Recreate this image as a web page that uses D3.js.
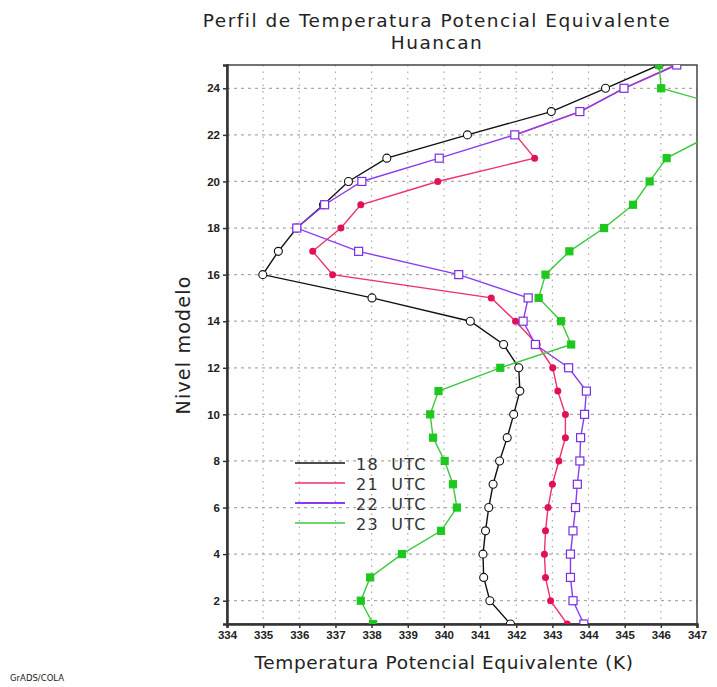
<!DOCTYPE html>
<html>
<head>
<meta charset="utf-8">
<script src="https://cdn.jsdelivr.net/npm/d3@7"></script>
<style>
  body { margin: 0; background: #fff; }
  svg text { font-family: "DejaVu Sans", sans-serif; fill: #222; }
</style>
</head>
<body>
<div id="chart"></div>
<script>
(function() {
"use strict"

// model levels and theta-e profiles (K)
var levels = d3.range(1, 26);
var t18 = [341.84, 341.27, 341.10, 341.08, 341.15, 341.24, 341.36, 341.54, 341.75, 341.93,
           342.10, 342.07, 341.65, 340.73, 338.01, 334.99, 335.42, 335.93, 336.67, 337.36,
           338.42, 340.65, 342.97, 344.47, 345.95];
var t21 = [343.41, 342.95, 342.81, 342.78, 342.81, 342.88, 343.00, 343.18, 343.36, 343.36,
           343.15, 343.01, 342.58, 341.98, 341.31, 336.92, 336.37, 337.15, 337.70, 339.83,
           342.51, 341.98, 343.78, 344.98, 346.40];
var t22 = [343.87, 343.57, 343.50, 343.50, 343.57, 343.64, 343.69, 343.76, 343.78, 343.89,
           343.94, 343.45, 342.53, 342.19, 342.33, 340.41, 337.64, 335.93, 336.70, 337.73,
           339.87, 341.96, 343.76, 344.98, 346.44];
var t23 = [338.04, 337.70, 337.96, 338.84, 339.92, 340.36, 340.25, 340.02, 339.70, 339.62,
           339.85, 341.56, 343.52, 343.24, 342.62, 342.81, 343.47, 344.43, 345.23, 345.69,
           346.16, 347.40, 348.30, 346.01, 345.95];
var xTicks = d3.range(334, 348);
var yTicks = d3.range(2, 25, 2);
var seriesNames = ["18 UTC", "21 UTC", "22 UTC", "23 UTC"];

var series = [
    {name: seriesNames[0], vals: t18, line: "#111", mark: "circle", fill: "#fff", stroke: "#111"},
    {name: seriesNames[1], vals: t21, line: "#f0306a", mark: "dot", fill: "#e0105c", stroke: "#e0105c"},
    {name: seriesNames[2], vals: t22, line: "#8a3cf0", mark: "square", fill: "#fff", stroke: "#7a2ee0"},
    {name: seriesNames[3], vals: t23, line: "#3cc83c", mark: "fsquare", fill: "#1ec81e", stroke: "#1ec81e"}
];

var W = 717, H = 687;
var margin = {top: 65, right: 20, bottom: 63, left: 227};
var width = W - margin.left - margin.right,
    height = H - margin.top - margin.bottom;

var svg = d3.select("#chart").append("svg")
    .attr("width", W)
    .attr("height", H);

var g = svg.append("g")
    .attr("transform", "translate(" + margin.left + "," + margin.top + ")");

var x = d3.scaleLinear().domain([334, 347]).range([0, width]);
var y = d3.scaleLinear().domain([1, 25]).range([height, 0]);

g.append("clipPath").attr("id", "clip")
  .append("rect").attr("width", width).attr("height", height);

// grid
g.append("g").selectAll("line").data(xTicks.slice(1, -1)).enter().append("line")
    .attr("x1", d => x(d)).attr("x2", d => x(d))
    .attr("y1", 0).attr("y2", height)
    .style("stroke", "#aaa").style("stroke-width", 1.2).style("stroke-dasharray", "1.5,5");
g.append("g").selectAll("line").data(yTicks).enter().append("line")
    .attr("x1", 0).attr("x2", width)
    .attr("y1", d => y(d)).attr("y2", d => y(d))
    .style("stroke", "#aaa").style("stroke-width", 1.2).style("stroke-dasharray", "3,4");

// frame
g.append("rect").attr("width", width).attr("height", height)
    .style("fill", "none").style("stroke", "#444").style("stroke-width", 1.5);

// axes
var xAxis = g.append("g")
    .attr("transform", "translate(0," + height + ")")
    .call(d3.axisBottom(x).tickValues(xTicks).tickFormat(d3.format("d")).tickSize(4).tickPadding(3));
var yAxis = g.append("g")
    .call(d3.axisLeft(y).tickValues(yTicks).tickFormat(d3.format("d")).tickSize(4).tickPadding(3));
[xAxis, yAxis].forEach(function(a) {
    a.select(".domain").style("stroke", "#333").style("stroke-width", 2.5);
    a.selectAll(".tick line").style("stroke", "#333").style("stroke-width", 1.5);
    a.selectAll(".tick text")
        .style("font-family", "'Liberation Sans', Arial, sans-serif")
        .style("font-size", "11.5px").style("font-weight", "bold").style("fill", "#222");
});

// lines and markers
var plot = g.append("g").attr("clip-path", "url(#clip)");
var line = d3.line().x(d => x(d[0])).y(d => y(d[1]));

series.forEach(function(s) {
    var pts = s.vals.map((v, i) => [v, levels[i]]);
    plot.append("path").datum(pts)
        .attr("d", line)
        .style("fill", "none").style("stroke", s.line).style("stroke-width", 1.4);
    var m = plot.append("g").selectAll(".m").data(pts).enter();
    if (s.mark === "circle") {
        m.append("circle").attr("cx", d => x(d[0])).attr("cy", d => y(d[1])).attr("r", 4)
            .style("fill", s.fill).style("stroke", s.stroke).style("stroke-width", 1.1);
    } else if (s.mark === "dot") {
        m.append("circle").attr("cx", d => x(d[0])).attr("cy", d => y(d[1])).attr("r", 3.5)
            .style("fill", s.fill);
    } else {
        var sz = s.mark === "square" ? 8 : 7;
        m.append("rect").attr("x", d => x(d[0]) - sz / 2).attr("y", d => y(d[1]) - sz / 2)
            .attr("width", sz).attr("height", sz)
            .style("fill", s.fill).style("stroke", s.stroke).style("stroke-width", 1.2);
    }
});

// legend
var leg = g.append("g").attr("transform", "translate(" + (295 - margin.left) + "," + (463 - margin.top) + ")");
series.forEach(function(s, i) {
    var r = leg.append("g").attr("transform", "translate(0," + (i * 20) + ")");
    r.append("line").attr("x1", 0).attr("x2", 50)
        .style("stroke", s.line).style("stroke-width", i === 2 ? 2.2 : 1.6);
    r.append("text").attr("x", 61).attr("y", 6.5).text(s.name.replace(" ", "  "))
        .style("font-size", "16px").style("letter-spacing", "1.2px")
        .style("white-space", "pre").style("fill", "#333");
});

// titles
svg.append("text").attr("x", 437).attr("y", 27).attr("text-anchor", "middle")
    .style("font-size", "18.5px").style("letter-spacing", "1.5px")
    .text("Perfil de Temperatura Potencial Equivalente");
svg.append("text").attr("x", 437).attr("y", 49).attr("text-anchor", "middle")
    .style("font-size", "18.5px").style("letter-spacing", "1.5px")
    .text("Huancan");
svg.append("text").attr("x", 444).attr("y", 669).attr("text-anchor", "middle")
    .style("font-size", "18.5px").style("letter-spacing", "0.65px")
    .text("Temperatura Potencial Equivalente (K)");
svg.append("text")
    .attr("transform", "translate(190,345) rotate(-90)")
    .attr("text-anchor", "middle")
    .style("font-size", "19px").style("letter-spacing", "1.2px")
    .text("Nivel modelo");
svg.append("text").attr("x", 10).attr("y", 681)
    .style("font-size", "8.5px")
    .text("GrADS/COLA");
})();
</script>
</body>
</html>
